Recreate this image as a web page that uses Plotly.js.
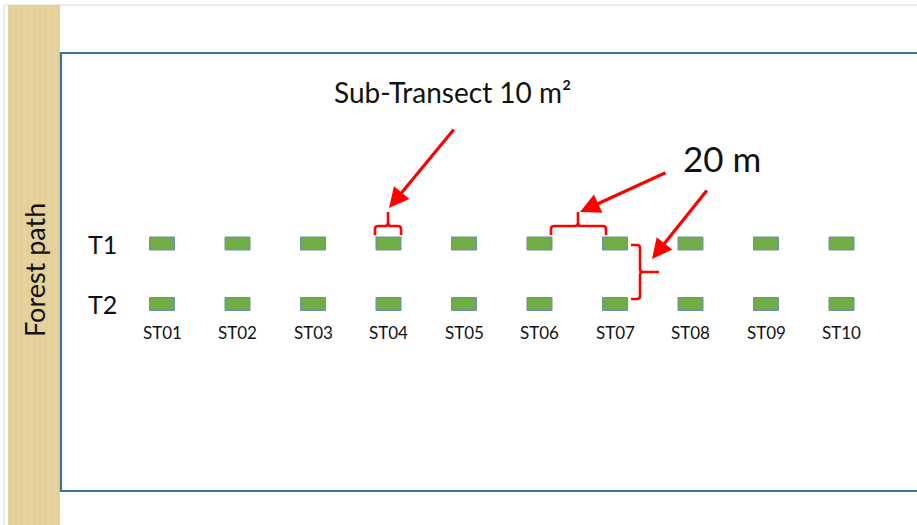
<!DOCTYPE html>
<html>
<head>
<meta charset="utf-8">
<script src="https://cdn.plot.ly/plotly-3.0.1.min.js"></script>
<style>html,body{margin:0;padding:0;background:#fff;}#chart{width:917px;height:525px;}</style>
</head>
<body>
<div id="chart"></div>
<script>
// ---- data ----
const stations = ['ST01','ST02','ST03','ST04','ST05','ST06','ST07','ST08','ST09','ST10'];
const stationPos = [1,2,3,4,5,6,7,8,9,10];
const transects = ['T1','T2'];
const transectRow = [2,1];
const plotWidth = 0.331;   // sub-transect plot footprint (station units)
const plotHeight = 0.215;  // (row units)

// ---- helpers for decorations in pixel space ----
const W = 917, H = 525;
const px = x => x / W;
const py = y => 1 - y / H;
const P = (x, y) => px(x).toFixed(5) + ',' + py(y).toFixed(5);
function pathFrom(pts){ return pts.map((p,i)=>(i? (p[0]==='Q'?'Q ':'L '):'M ') + (p[0]==='Q' ? P(p[1],p[2])+' '+P(p[3],p[4]) : P(p[0],p[1]))).join(' '); }

const traces = transects.map((t, i) => ({
  type: 'bar',
  name: t,
  x: stationPos,
  y: stationPos.map(() => plotHeight),
  base: stationPos.map(() => transectRow[i] - plotHeight / 2),
  width: plotWidth,
  marker: {color: '#70AD47', line: {color: '#6A8FA6', width: 1}},
  hoverinfo: 'skip',
  showlegend: false
}));

const red = '#FF0000';
const shapes = [
  // slide frame
  {type:'rect', xref:'paper', yref:'paper', x0:px(4), x1:px(940), y0:py(5), y1:py(540), line:{color:'#DADADA', width:1}, fillcolor:'rgba(0,0,0,0)', layer:'below'},
  // forest path strip
  {type:'rect', xref:'paper', yref:'paper', x0:px(8), x1:px(60), y0:py(5), y1:py(530), line:{width:0}, fillcolor:'#E6D29C', layer:'below'},
];
// very faint paper-like texture on the strip
for (let k = 0; k < 26; k++) {
  const xx = 10 + k * 2;
  shapes.push({type:'line', xref:'paper', yref:'paper', x0:px(xx), x1:px(xx), y0:py(5), y1:py(530),
    line:{color: k % 3 === 0 ? 'rgba(190,160,95,0.07)' : 'rgba(255,245,215,0.07)', width:1}, layer:'below'});
}
shapes.push(
  // study area outline
  {type:'rect', xref:'paper', yref:'paper', x0:px(61), x1:px(940), y0:py(53), y1:py(491), line:{color:'#41719C', width:2.2}, fillcolor:'rgba(0,0,0,0)', layer:'below'},
  // bracket over ST04 (T1)
  {type:'path', xref:'paper', yref:'paper', line:{color:red, width:2.6},
   path: pathFrom([[375,235],[375,229],['Q',375,226,378,226],[385,226],['Q',388,226,388,223],[388,212]])},
  {type:'path', xref:'paper', yref:'paper', line:{color:red, width:2.6},
   path: pathFrom([[401,235],[401,229],['Q',401,226,398,226],[391,226],['Q',388,226,388,223]])},
  // bracket ST06–ST07 (T1)
  {type:'path', xref:'paper', yref:'paper', line:{color:red, width:2.6},
   path: pathFrom([[551,235],[551,229],['Q',551,226,554,226],[575,226],['Q',578,226,578,223],[578,212]])},
  {type:'path', xref:'paper', yref:'paper', line:{color:red, width:2.6},
   path: pathFrom([[606,235],[606,229],['Q',606,226,603,226],[581,226],['Q',578,226,578,223]])},
  // vertical bracket T1–T2 at ST07
  {type:'path', xref:'paper', yref:'paper', line:{color:red, width:2.6},
   path: pathFrom([[631,245],[637,245],['Q',640,245,640,248],[640,269],['Q',640,272,643,272],[659,272]])},
  {type:'path', xref:'paper', yref:'paper', line:{color:red, width:2.6},
   path: pathFrom([[631,299],[637,299],['Q',640,299,640,296],[640,275],['Q',640,272,643,272]])}
);

function arrow(tx, ty, sx, sy){
  return {xref:'paper', yref:'paper', x:px(tx), y:py(ty), ax:sx-tx, ay:sy-ty, text:'',
    showarrow:true, arrowhead:2, arrowsize:1.25, arrowwidth:3.2, arrowcolor:red, standoff:0};
}

const font = 'Lato, "Open Sans", sans-serif';
const annotations = [
  arrow(389, 208, 455, 128),
  arrow(580, 212, 667, 172),
  arrow(652, 259, 708, 189),
  {xref:'paper', yref:'paper', x:px(452), y:py(92), text:'Sub-Transect 10 m²', showarrow:false,
   xanchor:'center', yanchor:'middle', font:{family:font, size:28, color:'#111'}},
  {xref:'paper', yref:'paper', x:px(722), y:py(158), text:'20 m', showarrow:false,
   xanchor:'center', yanchor:'middle', font:{family:font, size:35, color:'#111'}},
  {xref:'paper', yref:'paper', x:px(34), y:py(270), text:'Forest path', showarrow:false, textangle:-90,
   xanchor:'center', yanchor:'middle', font:{family:font, size:27, color:'#111'}},
];
transects.forEach((t, i) => annotations.push({
  xref:'paper', yref:'y', x:px(102), y:transectRow[i], text:t, showarrow:false,
  xanchor:'center', yanchor:'middle', font:{family:font, size:25, color:'#111'}
}));
stations.forEach((s, i) => annotations.push({
  xref:'x', yref:'y', x:stationPos[i], y:transectRow[1], yshift:-28, text:s, showarrow:false,
  xanchor:'center', yanchor:'middle', font:{family:font, size:17, color:'#111'}
}));

const layout = {
  width: W, height: H,
  margin: {l:0, r:0, t:0, b:0},
  paper_bgcolor: '#fff', plot_bgcolor: 'rgba(0,0,0,0)',
  barmode: 'overlay',
  xaxis: {range: [-1.1457, 11], visible: false, fixedrange: true},
  yaxis: {range: [-2.6529, 6.0248], visible: false, fixedrange: true},
  shapes: shapes,
  annotations: annotations,
  showlegend: false
};

Plotly.newPlot('chart', traces, layout, {staticPlot: true, displayModeBar: false});
</script>
</body>
</html>
